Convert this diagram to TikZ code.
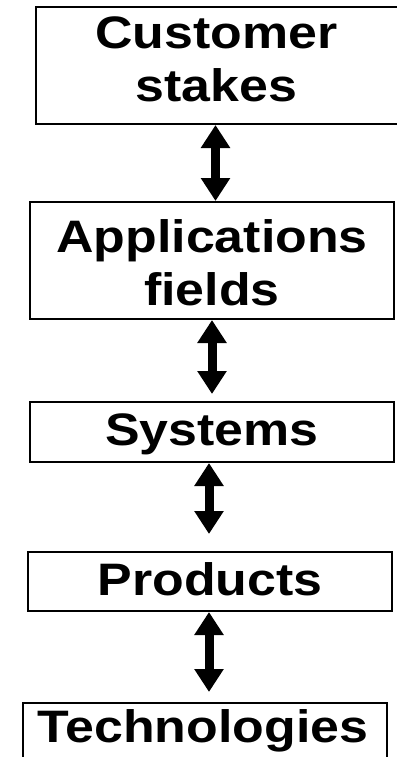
\documentclass[tikz,border=0pt]{standalone}
\usepackage{fontspec}
\usetikzlibrary{arrows.meta}
\newfontfamily\arialb{Liberation Sans}[FakeStretch=1.14]
\begin{document}
\begin{tikzpicture}[x=1pt,y=-1pt,
  box/.style={draw=black,line width=2pt,minimum height=#1,inner sep=0pt,minimum width=364pt},
  lbl/.style={font=\arialb\bfseries\fontsize{45.5}{53}\selectfont,align=center,inner sep=0pt,anchor=base},
  biarrow/.style={line width=9pt,{Triangle[length=23pt,width=28pt]}-{Triangle[length=23pt,width=28pt]}}]
\useasboundingbox (0,0) rectangle (396,757);
\node[box=117pt,minimum width=363pt] (b1) at (217.5,65.5) {};
\node[box=117pt] (b2) at (212,260.5) {};
\node[box=60pt] (b3) at (212,432) {};
\node[box=59pt] (b4) at (210,581.5) {};
\node[box=77pt] (b5) at (205,741.5) {};
\node[lbl] (t1) at (216.5,102) {Customer\\stakes};
\node[lbl] (t2) at (212,305) {Applications\\fields};
\node[lbl] (t3) at (212,445) {Systems};
\node[lbl] (t4) at (210,595) {Products};
\node[lbl] (t5) at (203,742) {Technologies};
\draw[biarrow] ([xshift=-2pt]b1.south) -- ([xshift=3.5pt]b2.north);
\draw[biarrow,shorten >=7pt] (b2.south) -- (b3.north);
\draw[biarrow,shorten >=17pt] ([xshift=-3pt]b3.south) -- ([xshift=-3pt]b3.south |- b4.north);
\draw[biarrow,shorten >=10pt] ([xshift=-1pt]b4.south) -- ([xshift=-1pt]b4.south |- b5.north);
\end{tikzpicture}
\end{document}
